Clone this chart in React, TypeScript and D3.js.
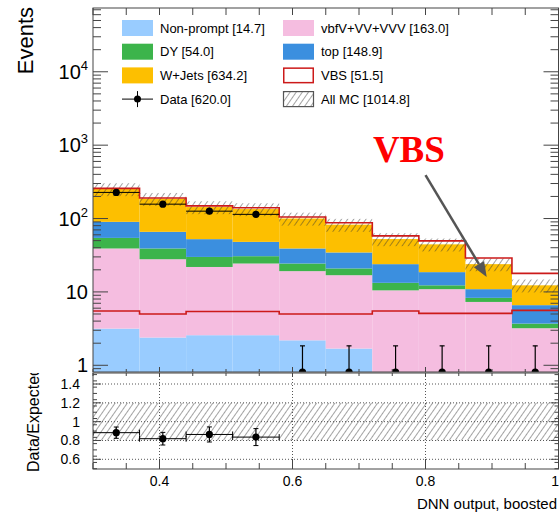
import * as d3 from "d3";

// DNN output bins (boosted category)
const binEdges = [0.30, 0.37, 0.44, 0.51, 0.58, 0.65, 0.72, 0.79, 0.86, 0.93, 1.0];

// per-bin yields, stacked bottom -> top
const nonPrompt = [3.16, 2.39, 2.57, 2.57, 2.19, 1.69, 0, 0, 0, 0];
const vbfVV = [35.9, 25.5, 19.3, 21.8, 17.0, 15.2, 10.5, 10.9, 7.3, 3.2];
const dyJets = [15.4, 11.2, 8.1, 6.3, 5.2, 4.0, 2.8, 1.4, 1.0, 0.5];
const topQ = [35.7, 26.8, 22.4, 17.4, 14.7, 13.6, 10.6, 6.3, 2.6, 2.9];
const wJets = [162, 120, 91, 86.5, 61, 48, 28.6, 25.9, 13, 5.7];
const vbs = [5.5, 5.0, 5.4, 5.4, 5.0, 5.0, 5.5, 5.1, 5.1, 5.6];
const dataCounts = [227, 157, 126, 114, 0, 0, 0, 0, 0, 0];
const mcUnc = 0.2;

// ratio panel
const ratioVals = [0.883, 0.819, 0.864, 0.836];
const ratioErr = [0.06, 0.067, 0.08, 0.09];

const legendLeft = [
  { label: "Non-prompt [14.7]", kind: "fill", color: "#99ccff" },
  { label: "DY [54.0]", kind: "fill", color: "#3cb44b" },
  { label: "W+Jets [634.2]", kind: "fill", color: "#fdbf00" },
  { label: "Data [620.0]", kind: "data", color: "#000" },
];
const legendRight = [
  { label: "vbfV+VV+VVV [163.0]", kind: "fill", color: "#f5bde0" },
  { label: "top [148.9]", kind: "fill", color: "#3b8fdf" },
  { label: "VBS [51.5]", kind: "line", color: "#cc1a1a" },
  { label: "All MC [1014.8]", kind: "hatch", color: "#555" },
];

const layerKeys = ["np", "vv", "dy", "top", "wj"];
const layerColors: Record<string, string> = {
  np: "#99ccff",
  vv: "#f5bde0",
  dy: "#3cb44b",
  top: "#3b8fdf",
  wj: "#fdbf00",
};

const FONT = "'Liberation Sans', Arial, Helvetica, sans-serif";
const RED = "#cc1a1a";

export default function App() {
  const width = 560;
  const height = 514;
  const L = 93, R = 558.5;
  const mTop = 8, mBot = 372;
  const rTop = 373, rBot = 469;

  const x = d3.scaleLinear().domain([0.3, 1.0]).range([L, R]);
  const yMin = 0.81;
  const y = d3.scaleLog().domain([yMin, 74000]).range([mBot, mTop]);
  const yr = d3.scaleLinear().domain([0.497, 1.517]).range([rBot, rTop]);
  const yc = (v: number) => y(Math.max(v, yMin));

  const rows = nonPrompt.map((_, i) => ({
    np: nonPrompt[i], vv: vbfVV[i], dy: dyJets[i], top: topQ[i], wj: wJets[i],
  }));
  const series = d3.stack<any>().keys(layerKeys)(rows);
  const totals = rows.map((r) => r.np + r.vv + r.dy + r.top + r.wj);

  const step = (vals: number[]) => {
    const pts: [number, number][] = vals.map((v, i) => [x(binEdges[i]), yc(v)]);
    pts.push([x(binEdges[vals.length]), yc(vals[vals.length - 1])]);
    return d3.line().curve(d3.curveStepAfter)(pts) || "";
  };
  const stepR = (vals: number[]) => {
    const pts: [number, number][] = vals.map((v, i) => [x(binEdges[i]), yr(v)]);
    return pts;
  };

  const centers = binEdges.slice(0, -1).map((e, i) => (e + binEdges[i + 1]) / 2);

  // x ticks
  const xMajor = [0.4, 0.6, 0.8, 1.0];
  const xMinor = d3.range(0.3, 1.0001, 0.05).map((v) => +v.toFixed(2)).filter((v) => !xMajor.includes(v));
  // log ticks
  const yMajor = [1, 10, 100, 1000, 10000];
  const yMinor: number[] = [];
  for (let k = -1; k <= 4; k++) for (let m = 2; m <= 9; m++) {
    const v = m * Math.pow(10, k);
    if (v > yMin && v < 74000) yMinor.push(v);
  }
  const rMajor = [0.6, 0.8, 1.0, 1.2, 1.4];
  const rMinor = d3.range(0.5, 1.517, 0.2 / 3).map((v) => +v.toFixed(4)).filter((v) => !rMajor.some((m) => Math.abs(m - v) < 0.01));

  const axisCol = "#444";

  const legendRow = (e: any, i: number, bx: number, tx: number) => {
    const cy = 28 + i * 23.7;
    let sym = null;
    if (e.kind === "fill") sym = <rect x={bx} y={cy - 8} width={31} height={16} fill={e.color} />;
    else if (e.kind === "line") sym = <rect x={bx + 0.75} y={cy - 7.25} width={29.5} height={14.5} fill="#fff" stroke={e.color} strokeWidth={1.5} />;
    else if (e.kind === "hatch") sym = <rect x={bx + 0.5} y={cy - 7.5} width={30} height={15} fill="url(#hatch)" stroke={e.color} strokeWidth={1.2} />;
    else sym = (
      <g>
        <line x1={bx} x2={bx + 31} y1={cy} y2={cy} stroke="#000" strokeWidth={1} />
        <line x1={bx + 15.5} x2={bx + 15.5} y1={cy - 8} y2={cy + 8} stroke="#000" strokeWidth={1} />
        <circle cx={bx + 15.5} cy={cy} r={3.5} fill="#000" />
      </g>
    );
    return (
      <g key={e.label}>
        {sym}
        <text x={tx} y={cy} dominantBaseline="central" fontSize={13} fontFamily={FONT} fill="#000">{e.label}</text>
      </g>
    );
  };

  // VBS annotation in data coordinates
  const arrowFrom = [0.8, 390];
  const arrowTo = [0.892, 16];
  const ax1 = x(arrowFrom[0]), ay1 = y(arrowFrom[1]);
  const ax2 = x(arrowTo[0]), ay2 = y(arrowTo[1]);
  const dx = ax2 - ax1, dyv = ay2 - ay1;
  const len = Math.hypot(dx, dyv);
  const ux = dx / len, uy = dyv / len;
  const headL = 15, headW = 6;
  const bxp = ax2 - ux * headL, byp = ay2 - uy * headL;

  return (
    <svg width={width} height={height} style={{ position: "absolute", left: 0, top: 0, background: "#fff" }}>
      <defs>
        <pattern id="hatch" patternUnits="userSpaceOnUse" width={5} height={5} patternTransform="rotate(35)">
          <line x1={0} y1={0} x2={0} y2={5} stroke="#333" strokeWidth={0.9} />
        </pattern>
        <clipPath id="clipMain"><rect x={L} y={mTop} width={R - L} height={mBot - mTop} /></clipPath>
        <clipPath id="clipRatio"><rect x={L} y={rTop} width={R - L} height={rBot - rTop} /></clipPath>
        <clipPath id="clipRTitle"><rect x={0} y={rTop} width={L} height={height - rTop} /></clipPath>
      </defs>

      {/* main panel */}
      <g clipPath="url(#clipMain)">
        {series.map((s) => (
          <g key={s.key}>
            {s.map((d, i) => (
              d[1] - d[0] > 0 &&
              <rect key={i} x={x(binEdges[i])} width={x(binEdges[i + 1]) - x(binEdges[i])}
                y={yc(d[1])} height={yc(d[0]) - yc(d[1])} fill={layerColors[s.key as string]} />
            ))}
          </g>
        ))}
        <path d={step(vbs)} fill="none" stroke={RED} strokeWidth={1.6} />
        {totals.map((t, i) => (
          <rect key={i} x={x(binEdges[i])} width={x(binEdges[i + 1]) - x(binEdges[i])}
            y={y(t * (1 + mcUnc))} height={y(t * (1 - mcUnc)) - y(t * (1 + mcUnc))} fill="url(#hatch)" />
        ))}
        <path d={step(totals.map((t, i) => t + vbs[i]))} fill="none" stroke={RED} strokeWidth={1.6} />
        {dataCounts.map((n, i) => {
          const cx = x(centers[i]);
          const cy = n > 0 ? y(n) : mBot;
          const up = n > 0 ? n + Math.sqrt(n) : 1.84;
          const lo = n > 0 ? n - Math.sqrt(n) : yMin;
          return (
            <g key={i}>
              {n > 0 && <line x1={x(binEdges[i])} x2={x(binEdges[i + 1])} y1={cy} y2={cy} stroke="#000" strokeWidth={1} />}
              <line x1={cx} x2={cx} y1={yc(lo)} y2={y(up)} stroke="#000" strokeWidth={1.2} />
              {n === 0 && <line x1={cx - 2.5} x2={cx + 2.5} y1={y(up)} y2={y(up)} stroke="#000" strokeWidth={1.2} />}
              <circle cx={cx} cy={cy} r={3.6} fill="#000" />
            </g>
          );
        })}
      </g>

      {/* main frame & ticks */}
      <rect x={L} y={mTop} width={R - L} height={mBot - mTop} fill="none" stroke={axisCol} strokeWidth={1} />
      {yMajor.map((v) => (
        <g key={"ym" + v}>
          <line x1={L} x2={L + 15} y1={y(v)} y2={y(v)} stroke={axisCol} />
          <line x1={R} x2={R - 15} y1={y(v)} y2={y(v)} stroke={axisCol} />
        </g>
      ))}
      {yMinor.map((v) => (
        <g key={"yn" + v}>
          <line x1={L} x2={L + 8} y1={y(v)} y2={y(v)} stroke={axisCol} />
          <line x1={R} x2={R - 8} y1={y(v)} y2={y(v)} stroke={axisCol} />
        </g>
      ))}
      {xMajor.concat(xMinor).map((v) => (
        <g key={"xt" + v}>
          <line x1={x(v)} x2={x(v)} y1={mTop} y2={mTop + 7} stroke={axisCol} />
          <line x1={x(v)} x2={x(v)} y1={mBot} y2={mBot - (xMajor.includes(v) ? 5 : 3)} stroke={axisCol} />
        </g>
      ))}
      {yMajor.map((v) => {
        const k = Math.round(Math.log10(v));
        return (
          <text key={"yl" + v} x={88} y={y(v) + 7} textAnchor="end" fontSize={20} fontFamily={FONT} fill="#000">
            {k === 0 ? "1" : k === 1 ? "10" : <>10<tspan fontSize={13} dy={-9}>{k}</tspan></>}
          </text>
        );
      })}
      <text transform="translate(33,7) rotate(-90)" textAnchor="end" fontSize={22} fontFamily={FONT} fill="#000">Events</text>

      {/* legend */}
      {legendLeft.map((e, i) => legendRow(e, i, 122, 160))}
      {legendRight.map((e, i) => legendRow(e, i, 283, 321))}

      {/* VBS annotation */}
      <line x1={ax1} y1={ay1} x2={bxp} y2={byp} stroke="#555" strokeWidth={2.5} />
      <polygon points={`${ax2},${ay2} ${bxp - uy * headW},${byp + ux * headW} ${bxp + uy * headW},${byp - ux * headW}`} fill="#555" />
      <text x={x(0.775)} y={y(590)} textAnchor="middle" fontSize={37} fontWeight="bold" fontFamily="'Liberation Serif', 'Times New Roman', serif" fill="#ff0000">VBS</text>

      {/* ratio panel */}
      <g clipPath="url(#clipRatio)">
        <rect x={L} width={R - L} y={yr(1 + mcUnc)} height={yr(1 - mcUnc) - yr(1 + mcUnc)} fill="url(#hatch)" />
        {rMajor.map((v) => (
          <line key={"rg" + v} x1={L} x2={R} y1={yr(v)} y2={yr(v)} stroke="#555" strokeDasharray="1,2" strokeWidth={1} />
        ))}
        {[0.4, 0.6, 0.8].map((v) => (
          <line key={"xg" + v} x1={x(v)} x2={x(v)} y1={rTop} y2={rBot} stroke="#555" strokeDasharray="1,2" strokeWidth={1} />
        ))}
        {stepR(ratioVals).map(([px, py], i) => {
          const x2 = x(binEdges[i + 1]);
          const cx = x(centers[i]);
          return (
            <g key={i}>
              <line x1={px} x2={x2} y1={py} y2={py} stroke="#000" strokeWidth={1} />
              <line x1={px} x2={px} y1={py - 3} y2={py + 3} stroke="#000" strokeWidth={1} />
              <line x1={x2} x2={x2} y1={py - 3} y2={py + 3} stroke="#000" strokeWidth={1} />
              <line x1={cx} x2={cx} y1={yr(ratioVals[i] - ratioErr[i])} y2={yr(ratioVals[i] + ratioErr[i])} stroke="#000" strokeWidth={1.2} />
              <line x1={cx - 2.5} x2={cx + 2.5} y1={yr(ratioVals[i] - ratioErr[i])} y2={yr(ratioVals[i] - ratioErr[i])} stroke="#000" />
              <line x1={cx - 2.5} x2={cx + 2.5} y1={yr(ratioVals[i] + ratioErr[i])} y2={yr(ratioVals[i] + ratioErr[i])} stroke="#000" />
              <circle cx={cx} cy={py} r={3.6} fill="#000" />
            </g>
          );
        })}
      </g>
      <rect x={L} y={rTop} width={R - L} height={rBot - rTop} fill="none" stroke={axisCol} strokeWidth={1} />
      {rMajor.map((v) => (
        <g key={"rm" + v}>
          <line x1={L} x2={L + 8} y1={yr(v)} y2={yr(v)} stroke={axisCol} />
          <line x1={R} x2={R - 8} y1={yr(v)} y2={yr(v)} stroke={axisCol} />
          <text x={80} y={yr(v)} textAnchor="end" dominantBaseline="central" fontSize={14} fontFamily={FONT} fill="#000">{v === 1 ? "1" : v.toFixed(1)}</text>
        </g>
      ))}
      {rMinor.map((v) => (
        <g key={"rn" + v}>
          <line x1={L} x2={L + 4} y1={yr(v)} y2={yr(v)} stroke={axisCol} />
          <line x1={R} x2={R - 4} y1={yr(v)} y2={yr(v)} stroke={axisCol} />
        </g>
      ))}
      {xMajor.concat(xMinor).map((v) => {
        const major = xMajor.includes(v);
        return (
          <g key={"rx" + v}>
            <line x1={x(v)} x2={x(v)} y1={rTop} y2={rTop + (major ? 4 : 3)} stroke={axisCol} />
            <line x1={x(v)} x2={x(v)} y1={rBot} y2={rBot - (major ? 10 : 6)} stroke={axisCol} />
          </g>
        );
      })}
      {xMajor.map((v) => (
        <text key={"xl" + v} x={v === 1 ? width - 1 : x(v)} y={486} textAnchor={v === 1 ? "end" : "middle"} fontSize={14} fontFamily={FONT} fill="#000">{v === 1 ? "1" : v.toFixed(1)}</text>
      ))}
      <g clipPath="url(#clipRTitle)">
        <text transform="translate(39,472) rotate(-90)" textAnchor="start" fontSize={16} fontFamily={FONT} fill="#000">Data/Expected</text>
      </g>
      <text x={557} y={509} textAnchor="end" fontSize={15} fontFamily={FONT} fill="#000">DNN output, boosted</text>
    </svg>
  );
}
